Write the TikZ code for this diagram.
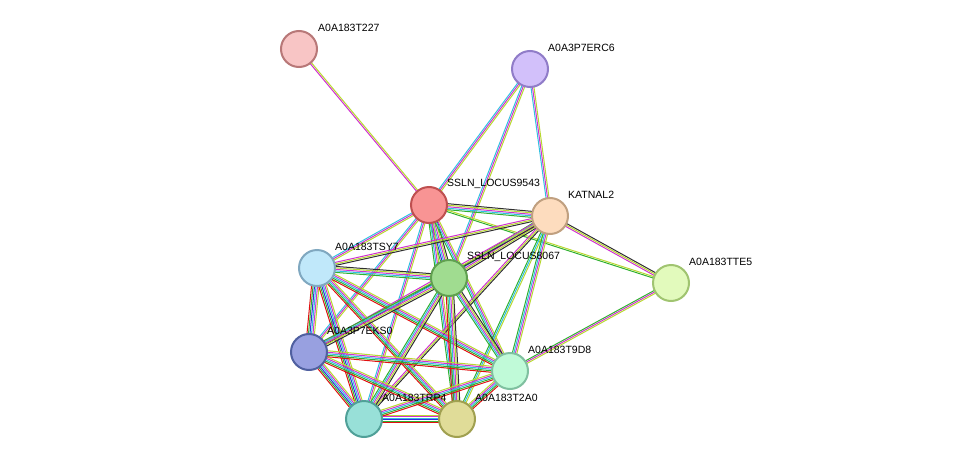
\documentclass[tikz,border=0pt]{standalone}
\usepackage{fontspec}
\setmainfont{Liberation Sans}
\usetikzlibrary{calc}
\definecolor{er}{HTML}{E01010}
\definecolor{eg}{HTML}{30B030}
\definecolor{eb}{HTML}{3030D8}
\definecolor{ec}{HTML}{30C0E0}
\definecolor{em}{HTML}{D030D0}
\definecolor{ey}{HTML}{B8D830}
\definecolor{ek}{HTML}{303030}
\tikzset{prot/.style={circle, minimum size=36pt, inner sep=0pt, line width=2pt},
  lbl/.style={anchor=west, inner sep=0pt, font=\fontsize{10.5}{12}\selectfont}}
\newcommand\bund[4]{%
  \foreach \c [count=\i] in {#4} {%
    \pgfmathsetmacro\o{(\i-(#3+1)/2)*1.5}
    \draw[draw=\c, line width=1pt] ($(#1)!\o pt!90:(#2)$) -- ($(#2)!\o pt!-90:(#1)$);}}
\begin{document}
\begin{tikzpicture}[x=1pt, y=-1pt]
    \useasboundingbox (0,0) rectangle (975,466);
    \coordinate (t227) at (299,49);
    \coordinate (erc6) at (530,69);
    \coordinate (l9543) at (429,205);
    \coordinate (katnal) at (550,216);
    \coordinate (tte5) at (671,283);
    \coordinate (tsy7) at (317,268);
    \coordinate (l8067) at (449,278);
    \coordinate (eks0) at (309,352);
    \coordinate (t9d8) at (510,371);
    \coordinate (trp4) at (364,419);
    \coordinate (t2a0) at (457,419);
 % edges
    \bund{t227}{l9543}{2}{em,ey}
    \bund{erc6}{l9543}{3}{ec,em,ey}
    \bund{erc6}{katnal}{3}{ec,em,ey}
    \bund{erc6}{l8067}{3}{ec,em,ey}
    \bund{l9543}{katnal}{5}{eg,ec,em,ey,ek}
    \bund{l9543}{tte5}{2}{eg,ey}
    \bund{katnal}{tte5}{3}{em,ey,ek}
    \bund{tte5}{t9d8}{3}{eg,em,ey}
    \bund{l9543}{tsy7}{3}{ec,em,ey}
    \bund{l9543}{l8067}{6}{eg,eb,ec,em,ey,ek}
    \bund{l9543}{eks0}{3}{ec,em,ey}
    \bund{l9543}{trp4}{3}{ec,em,ey}
    \bund{l9543}{t2a0}{4}{eg,ec,em,ey}
    \bund{l9543}{t9d8}{4}{eg,ec,em,ey}
    \bund{katnal}{tsy7}{3}{em,ey,ek}
    \bund{katnal}{l8067}{5}{eg,ec,em,ey,ek}
    \bund{katnal}{eks0}{3}{em,ey,ek}
    \bund{katnal}{trp4}{3}{em,ey,ek}
    \bund{katnal}{t2a0}{3}{eg,ec,ey}
    \bund{katnal}{t9d8}{4}{eg,ec,em,ey}
    \bund{tsy7}{l8067}{5}{eg,ec,em,ey,ek}
    \bund{tsy7}{eks0}{6}{er,eg,eb,ec,em,ey}
    \bund{tsy7}{trp4}{6}{er,eg,eb,ec,em,ey}
    \bund{tsy7}{t2a0}{5}{er,eg,ec,em,ey}
    \bund{tsy7}{t9d8}{5}{er,eg,ec,em,ey}
    \bund{l8067}{eks0}{5}{eg,ec,em,ey,ek}
    \bund{l8067}{trp4}{5}{eg,ec,em,ey,ek}
    \bund{l8067}{t2a0}{6}{er,eg,ec,em,ey,ek}
    \bund{l8067}{t9d8}{5}{eg,ec,em,ey,ek}
    \bund{eks0}{trp4}{6}{er,eg,eb,ec,em,ey}
    \bund{eks0}{t2a0}{5}{er,eg,ec,em,ey}
    \bund{eks0}{t9d8}{5}{er,eg,ec,em,ey}
    \bund{trp4}{t2a0}{6}{er,eg,eb,ec,em,ey}
    \bund{trp4}{t9d8}{5}{er,eg,ec,em,ey}
    \bund{t2a0}{t9d8}{5}{er,eg,ec,em,ey}
 % proteins
    \node[prot, fill={rgb,255:red,248;green,197;blue,197}, draw={rgb,255:red,184;green,120;blue,120}] (p1) at (t227) {};
    \node[prot, fill={rgb,255:red,210;green,192;blue,250}, draw={rgb,255:red,144;green,124;blue,200}] (p2) at (erc6) {};
    \node[prot, fill={rgb,255:red,248;green,148;blue,148}, draw={rgb,255:red,190;green,80;blue,80}] (p3) at (l9543) {};
    \node[prot, fill={rgb,255:red,253;green,220;blue,190}, draw={rgb,255:red,192;green,160;blue,128}] (p4) at (katnal) {};
    \node[prot, fill={rgb,255:red,226;green,250;blue,188}, draw={rgb,255:red,160;green,196;blue,112}] (p5) at (tte5) {};
    \node[prot, fill={rgb,255:red,192;green,232;blue,250}, draw={rgb,255:red,128;green,168;blue,192}] (p6) at (tsy7) {};
    \node[prot, fill={rgb,255:red,160;green,220;blue,144}, draw={rgb,255:red,96;green,160;blue,80}] (p7) at (l8067) {};
    \node[prot, fill={rgb,255:red,152;green,160;blue,224}, draw={rgb,255:red,80;green,96;blue,160}] (p8) at (eks0) {};
    \node[prot, fill={rgb,255:red,192;green,250;blue,216}, draw={rgb,255:red,128;green,192;blue,160}] (p9) at (t9d8) {};
    \node[prot, fill={rgb,255:red,152;green,224;blue,216}, draw={rgb,255:red,80;green,160;blue,152}] (p10) at (trp4) {};
    \node[prot, fill={rgb,255:red,224;green,220;blue,152}, draw={rgb,255:red,160;green,160;blue,80}] (p11) at (t2a0) {};
 % labels
    \node[lbl] (n1) at ($(t227)+(19,-21)$) {A0A183T227};
    \node[lbl] (n2) at ($(erc6)+(18,-21)$) {A0A3P7ERC6};
    \node[lbl] (n3) at ($(l9543)+(18,-21)$) {SSLN\_LOCUS9543};
    \node[lbl] (n4) at ($(katnal)+(18,-21)$) {KATNAL2};
    \node[lbl] (n5) at ($(tte5)+(18,-21)$) {A0A183TTE5};
    \node[lbl] (n6) at ($(tsy7)+(18,-21)$) {A0A183TSY7};
    \node[lbl] (n7) at ($(l8067)+(18,-21)$) {SSLN\_LOCUS8067};
    \node[lbl] (n8) at ($(eks0)+(18,-21)$) {A0A3P7EKS0};
    \node[lbl] (n9) at ($(t9d8)+(18,-21)$) {A0A183T9D8};
    \node[lbl] (n10) at ($(trp4)+(18,-21)$) {A0A183TRP4};
    \node[lbl] (n11) at ($(t2a0)+(18,-21)$) {A0A183T2A0};
\end{tikzpicture}
\end{document}
